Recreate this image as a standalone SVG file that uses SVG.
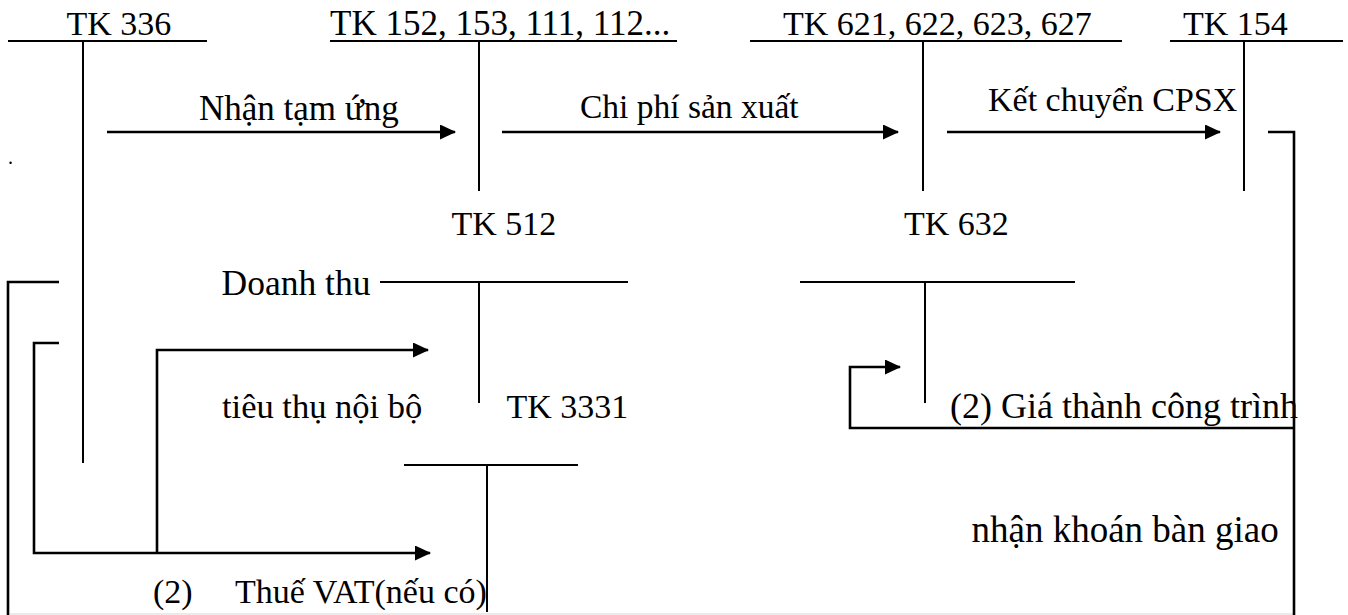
<svg xmlns="http://www.w3.org/2000/svg" width="1348" height="615" viewBox="0 0 1348 615">
<style>
text{font-family:'Liberation Serif',Tinos,'Times New Roman',Times,serif;font-size:34px;fill:#000}
.f35{font-size:35px}
.f335{font-size:33.5px}
.f355{font-size:35.5px}
.f345{font-size:34.5px}
.f36{font-size:36px}
.f37{font-size:37px}
.t{stroke:#000;stroke-width:2;fill:none}
.c{stroke:#000;stroke-width:2.6;fill:none}
</style>
<defs>
<marker id="ah" viewBox="0 0 16 15" refX="15" refY="7.5" markerWidth="16" markerHeight="15" markerUnits="userSpaceOnUse" orient="auto">
<path d="M0,0 L16,7.5 L0,15 z" fill="#000"/>
</marker>
</defs>
<rect width="1348" height="615" fill="#fff"/>
<line x1="10" y1="614" x2="1294" y2="614" stroke="#e4e4e4" stroke-width="1.5"/>
<text x="8" y="163.5" style="font-size:20px">.</text>

<g id="tk336">
<path class="t" d="M8,41 H207 M83,41 V463"/>
<text x="66.5" y="35">TK 336</text>
</g>
<g id="tk152">
<path class="t" d="M330,41 H677 M479,41 V191"/>
<text class="f35" x="330" y="35">TK 152, 153, 111, 112...</text>
</g>
<g id="tk621">
<path class="t" d="M750,41 H1122 M923,41 V191"/>
<text x="783" y="35">TK 621, 622, 623, 627</text>
</g>
<g id="tk154">
<path class="t" d="M1170,41 H1343 M1244,41 V191"/>
<text x="1183" y="35">TK 154</text>
</g>
<g id="tk512">
<path class="t" d="M380,282 H628 M479,282 V403"/>
<text x="451.5" y="235">TK 512</text>
</g>
<g id="tk632">
<path class="t" d="M800,282 H1075 M925,282 V403"/>
<text x="904" y="235">TK 632</text>
</g>
<g id="tk3331">
<path class="t" d="M404,465 H578 M487,465 V612"/>
<text x="506.5" y="418">TK 3331</text>
</g>

<g id="connectors">
<path class="c" d="M107,132 H455" marker-end="url(#ah)"/>
<path class="c" d="M502,132 H898" marker-end="url(#ah)"/>
<path class="c" d="M947,132 H1220" marker-end="url(#ah)"/>
<path class="c" d="M1268,132 H1294 V615"/>
<path class="c" d="M1294,428 H850 V367 H900" marker-end="url(#ah)"/>
<path class="c" d="M59,282 H8 V615"/>
<path class="c" d="M59,343 H34 V553 H430" marker-end="url(#ah)"/>
<path class="c" d="M157,553 V350 H428" marker-end="url(#ah)"/>
</g>

<g id="labels">
<text class="f35" x="199" y="120">Nhận tạm ứng</text>
<text class="f335" x="580" y="118">Chi phí sản xuất</text>
<text x="988" y="111">Kết chuyển CPSX</text>
<text class="f355" x="221.5" y="295">Doanh thu</text>
<text class="f345" x="222" y="418">tiêu thụ nội bộ</text>
<text class="f36" x="950" y="418">(2) Giá thành công trình</text>
<text class="f37" x="971.5" y="542">nhận khoán bàn giao</text>
<text x="153" y="603">(2)</text>
<text x="235" y="603">Thuế VAT(nếu có)</text>
</g>
</svg>
